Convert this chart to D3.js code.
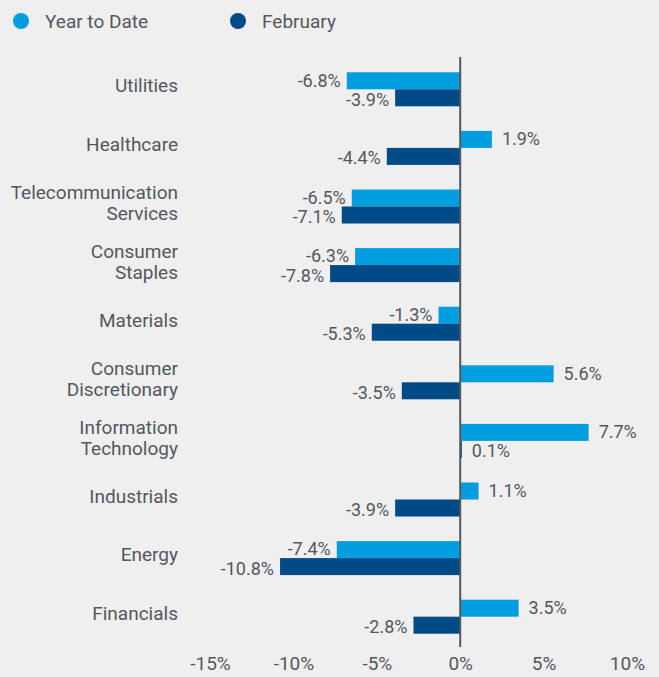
<!DOCTYPE html>
<html>
<head>
<meta charset="utf-8">
<script src="https://cdn.jsdelivr.net/npm/d3@7"></script>
<style>
  html, body { margin: 0; padding: 0; background: #efefef; }
  svg { display: block; }
  text { font-family: Roboto, "Liberation Sans", sans-serif; fill: #53585f; }
</style>
</head>
<body>
<svg id="chart" width="659" height="677"></svg>
<script>
const categories = ["Utilities", "Healthcare", "Telecommunication|Services", "Consumer|Staples", "Materials",
  "Consumer|Discretionary", "Information|Technology", "Industrials", "Energy", "Financials"];
const seriesNames = ["Year to Date", "February"];
const ytd = [-6.8, 1.9, -6.5, -6.3, -1.3, 5.6, 7.7, 1.1, -7.4, 3.5];
const feb = [-3.9, -4.4, -7.1, -7.8, -5.3, -3.5, 0.1, -3.9, -10.8, -2.8];
const tickValues = [-15, -10, -5, 0, 5, 10];
const colors = ["#009ddf", "#004a85"];

const svg = d3.select("#chart");
svg.append("rect").attr("width", 659).attr("height", 677).attr("fill", "#efefef");

const x = d3.scaleLinear().domain([-15, 10]).range([210, 627]);
const y = d3.scaleBand().domain(categories).range([60, 646]).paddingInner(0.42).paddingOuter(0.21);
const keys = ["ytd", "feb"];
const y1 = d3.scaleBand().domain(keys).range([0, y.bandwidth()]);
const values = { ytd, feb };
const labelShift = { ytd: -0.5, feb: 1.8 };

const rows = categories.map((c, i) => ({ c, i }));

// bars
keys.forEach((k, ki) => {
  svg.append("g").selectAll("rect").data(rows).join("rect")
    .attr("x", d => x(Math.min(0, values[k][d.i])))
    .attr("width", d => Math.abs(x(values[k][d.i]) - x(0)))
    .attr("y", d => y(d.c) + y1(k))
    .attr("height", y1.bandwidth())
    .attr("fill", colors[ki]);

  svg.append("g").selectAll("text").data(rows).join("text")
    .attr("x", d => values[k][d.i] >= 0 ? x(values[k][d.i]) + 10 : x(values[k][d.i]) - 6)
    .attr("y", d => y(d.c) + y1(k) + y1.bandwidth() / 2 + labelShift[k])
    .attr("dy", "0.35em")
    .attr("text-anchor", d => values[k][d.i] >= 0 ? "start" : "end")
    .style("font-size", "18px")
    .text(d => values[k][d.i].toFixed(1) + "%");
});

// zero line
svg.append("line")
  .attr("x1", x(0)).attr("x2", x(0))
  .attr("y1", 57).attr("y2", 647)
  .attr("stroke", "#55595e").attr("stroke-width", 2);

// category labels
const cl = svg.append("g").selectAll("text").data(rows).join("text")
  .attr("text-anchor", "end")
  .style("font-size", "19px")
  .attr("transform", d => `translate(178,${y(d.c) + y.bandwidth() / 2 - 3.5})`);
cl.each(function(d) {
  const lines = d.c.split("|");
  const t = d3.select(this);
  lines.forEach((ln, li) => {
    t.append("tspan").attr("x", 0)
      .attr("y", (li - (lines.length - 1) / 2) * 21)
      .attr("dy", "0.35em")
      .text(ln);
  });
});

// x axis tick labels
const axis = d3.axisBottom(x).tickValues(tickValues).tickSize(0).tickPadding(0).tickFormat(d => d + "%");
const ag = svg.append("g").attr("transform", "translate(0,656)").call(axis);
ag.select(".domain").remove();
ag.selectAll("text").style("font-size", "19px").attr("fill", "#53585f")
  .style("font-family", "Roboto, sans-serif");

// legend
const lg = svg.append("g");
seriesNames.forEach((s, i) => {
  const lx = [21, 238][i];
  lg.append("circle").attr("cx", lx).attr("cy", 21).attr("r", 8).attr("fill", colors[i]);
  lg.append("text").attr("x", lx + 24).attr("y", 21).attr("dy", "0.35em")
    .style("font-size", "19px").text(s);
});
</script>
</body>
</html>
